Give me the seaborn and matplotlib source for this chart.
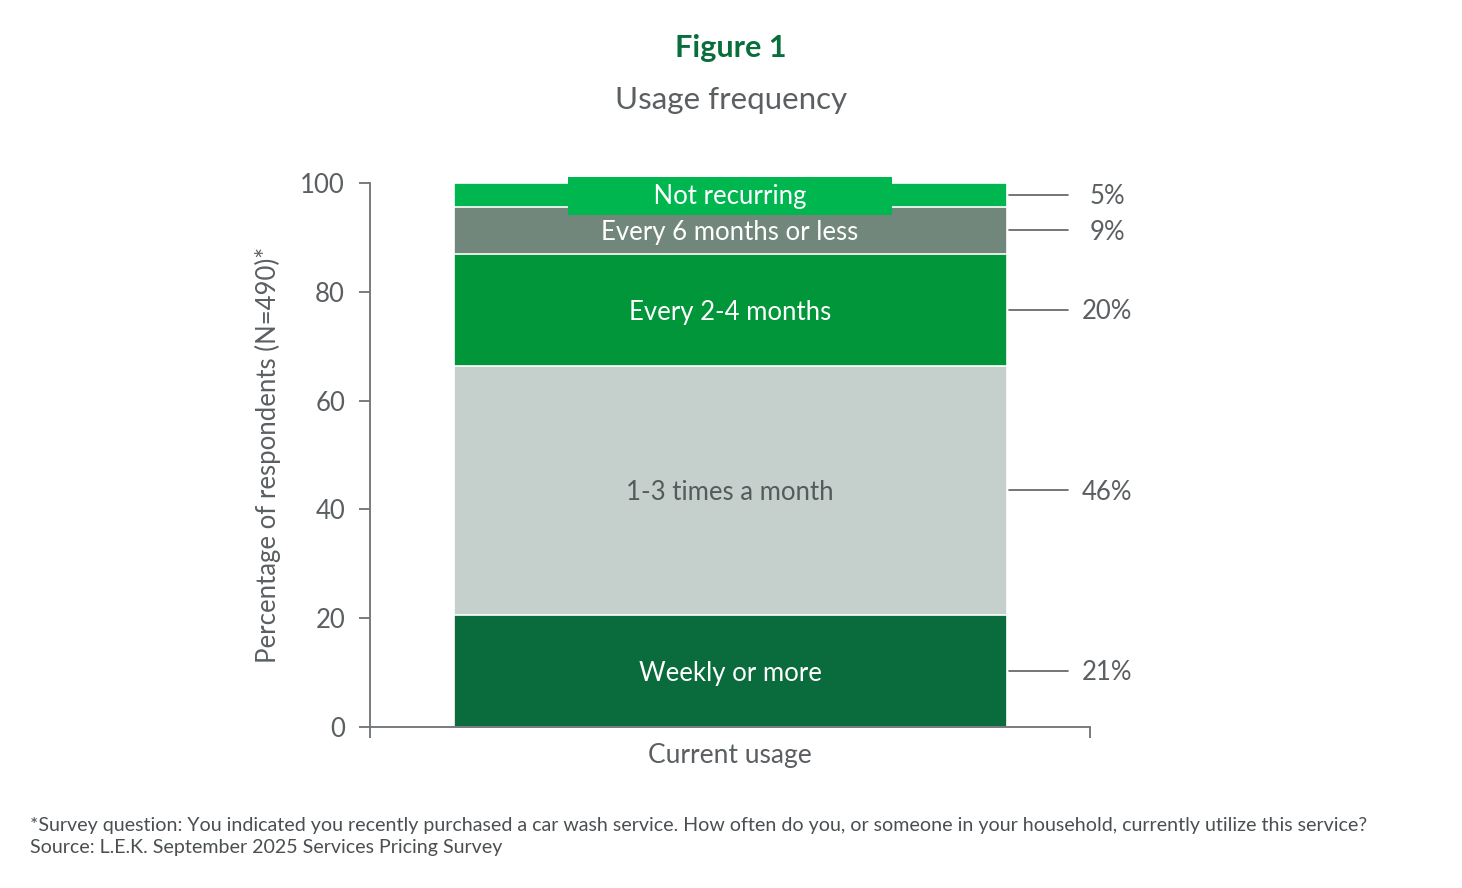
import numpy as np
import pandas as pd
import seaborn as sns
import matplotlib.pyplot as plt

# Data (bottom to top)
segments = ['Weekly or more', '1-3 times a month', 'Every 2-4 months',
            'Every 6 months or less', 'Not recurring']
values = [20.6, 45.8, 20.6, 8.6, 4.4]
pct_labels = ['21%', '46%', '20%', '9%', '5%']
colors = ['#0a6b3c', '#c5cfcc', '#009639', '#71877c', '#00b74f']
text_colors = ['white', '#555a5c', 'white', 'white', 'white']
category = 'Current usage'

sns.set_style('white')
plt.rcParams['font.family'] = ['Lato', 'DejaVu Sans']

grey = '#5a5f62'

fig = plt.figure(figsize=(14.62, 8.88), dpi=100)
ax = fig.add_axes([0.2531, 0.1813, 0.4925, 0.6126])

tops = np.cumsum(values)
bottoms = tops - np.array(values)
df = pd.DataFrame({'segment': segments, 'top': tops, 'x': category})

# stacked bar: draw cumulative bars from the tallest down
for i in range(len(segments) - 1, -1, -1):
    sns.barplot(data=df.iloc[[i]], x='x', y='top', color=colors[i],
                width=0.768, edgecolor='white', linewidth=1.2,
                saturation=1, ax=ax)

ax.set_xlim(-0.5, 0.5)
ax.set_ylim(0, 100)

for i, seg in enumerate(segments):
    mid = bottoms[i] + values[i] / 2
    if seg == 'Not recurring':
        ax.text(0, mid - 0.25, '            ' + seg + '            ', ha='center', va='center',
                color='white', fontsize=18.5,
                bbox=dict(boxstyle='square,pad=0.25', facecolor=colors[i],
                          edgecolor='none'), zorder=5)
    else:
        ax.text(0, mid - 0.45, seg, ha='center', va='center', color=text_colors[i],
                fontsize=18.5, zorder=5)
    ax.plot([0.388, 0.469], [mid, mid], color=grey, lw=1.2, clip_on=False)
    ax.text(0.524, mid - 0.35, pct_labels[i], ha='center', va='center',
            color=grey, fontsize=18.5, clip_on=False)

# axes styling
for side in ['top', 'right']:
    ax.spines[side].set_visible(False)
for side in ['left', 'bottom']:
    ax.spines[side].set_color('#6d7275')
    ax.spines[side].set_linewidth(1.3)
ax.set_yticks([0, 20, 40, 60, 80, 100])
ax.tick_params(axis='y', left=True, length=8, width=1.3, color='#6d7275',
               labelsize=18.5, labelcolor=grey, pad=10)
ax.set_xticks([-0.5, 0.5])
ax.set_xticklabels(['', ''])
ax.tick_params(axis='x', bottom=True, length=8, width=1.3, color='#6d7275')
ax.set_xlabel(category, fontsize=19, color=grey, labelpad=0)
ax.set_ylabel('Percentage of respondents (N=490)*', fontsize=18.5, color=grey,
              labelpad=14)

fig.text(0.5, 0.946, 'Figure 1', ha='center', va='center', fontsize=22,
         fontweight='bold', color='#0a6e3c')
fig.text(0.5, 0.887, 'Usage frequency', ha='center', va='center', fontsize=22.5,
         color=grey)

fig.text(0.0205, 0.070, '*Survey question: You indicated you recently purchased a car wash service. '
         'How often do you, or someone in your household, currently utilize this service?',
         ha='left', va='center', fontsize=14.1, color='#4a4f52')
fig.text(0.0205, 0.046, 'Source: L.E.K. September 2025 Services Pricing Survey',
         ha='left', va='center', fontsize=14.1, color='#4a4f52')

fig.savefig('out.png', dpi=100)
